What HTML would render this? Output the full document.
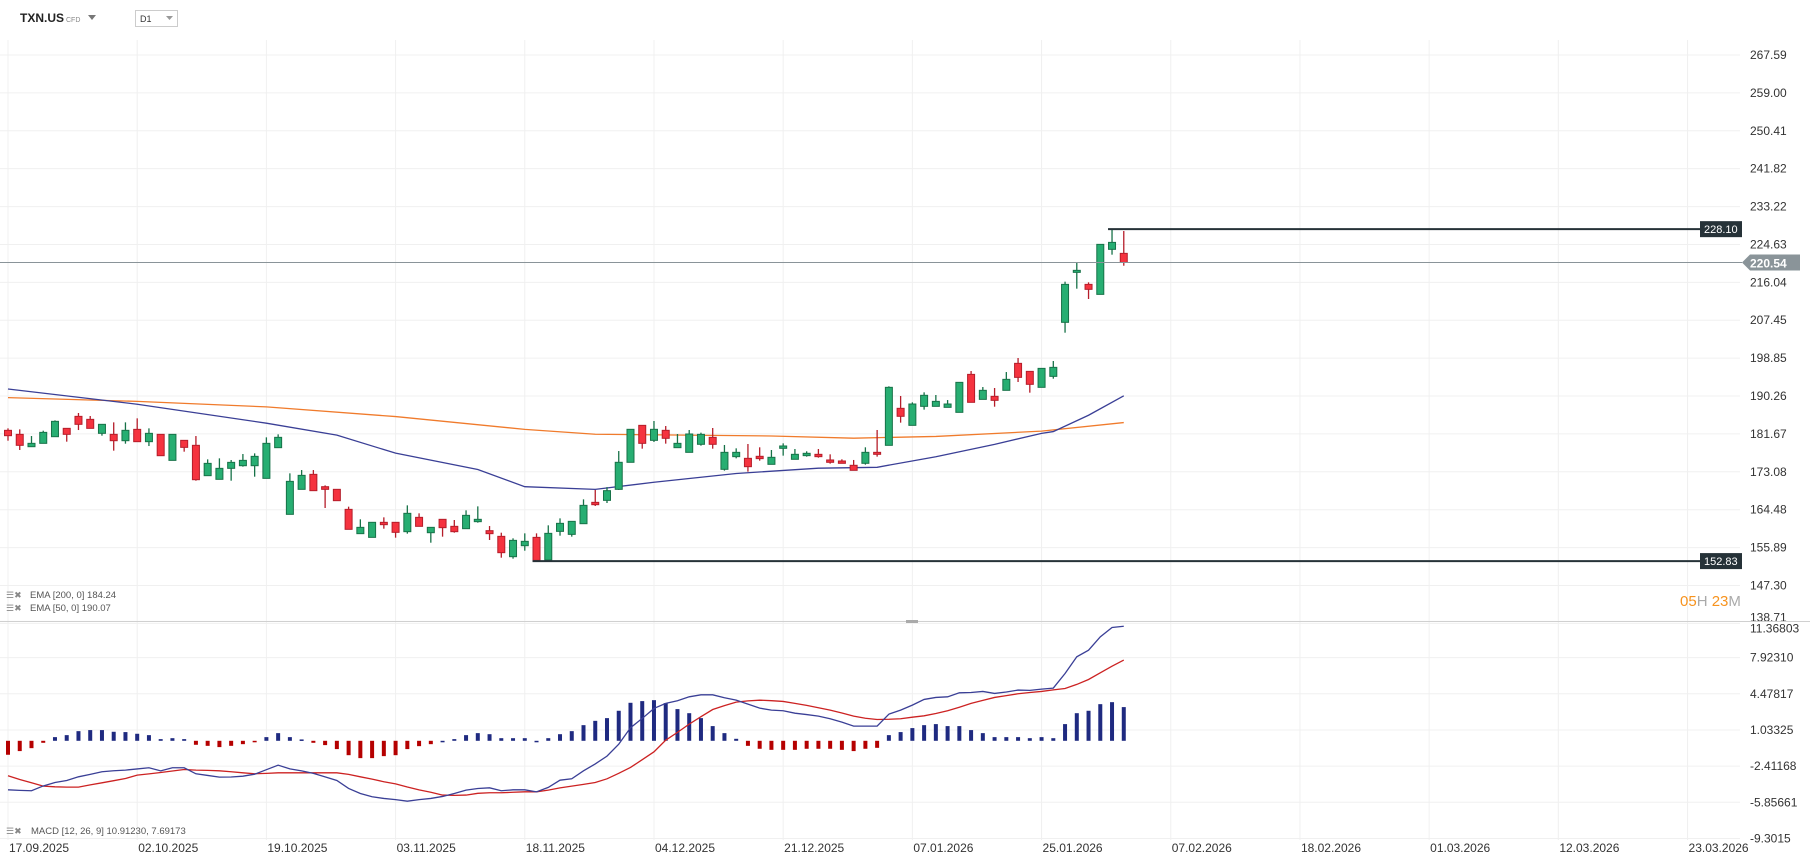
<!DOCTYPE html>
<html><head><meta charset="utf-8"><style>
html,body{margin:0;padding:0;background:#fff;}
svg{display:block;font-family:"Liberation Sans",Arial,sans-serif;}
</style></head><body>
<svg id="chart" width="1810" height="865" viewBox="0 0 1810 865" xmlns="http://www.w3.org/2000/svg">
<rect x="0" y="0" width="1810" height="865" fill="#fff"/>
<g id="grid"></g>
<g id="main"></g>
<g id="macd"></g>
<g id="axes"></g>
<g>
  <text x="20" y="22" font-size="12" font-weight="bold" fill="#222">TXN.US</text>
  <text x="66" y="22" font-size="7" fill="#888">CFD</text>
  <path d="M88 15 l8 0 l-4 5 z" fill="#777"/>
  <rect x="135.5" y="10.5" width="42" height="16" fill="#fff" stroke="#ccc"/>
  <text x="140" y="22" font-size="9" fill="#333">D1</text>
  <path d="M166 16 l7 0 l-3.5 4 z" fill="#999"/>
</g>
<line x1="0" y1="621.5" x2="1810" y2="621.5" stroke="#d0d0d0"/>
<rect x="906" y="620" width="12" height="3" fill="#aaa"/>
<g>
  <text x="6" y="598" font-size="9" fill="#888">☰✖</text>
  <text x="30" y="598" font-size="9.5" fill="#555">EMA [200, 0] 184.24</text>
  <text x="6" y="611" font-size="9" fill="#888">☰✖</text>
  <text x="30" y="611" font-size="9.5" fill="#555">EMA [50, 0] 190.07</text>
</g>
<text x="1680" y="606" font-size="15"><tspan fill="#f7931e">05</tspan><tspan fill="#aaa">H </tspan><tspan fill="#f7931e">23</tspan><tspan fill="#aaa">M</tspan></text>
<g>
  <text x="6" y="834" font-size="9" fill="#888">☰✖</text>
  <text x="31" y="834" font-size="9.5" fill="#555">MACD [12, 26, 9] 10.91230,  7.69173</text>
</g>
</svg>
<script>
const opens=[182.48,181.57,178.77,179.53,181.04,182.93,185.65,184.97,181.8,181.57,180.13,182.7,179.91,181.57,175.67,180.21,179.08,172.2,171.37,173.86,174.46,174.46,171.59,178.55,163.43,169.1,172.5,169.7,169.1,164.56,159.05,158.21,161.62,161.62,159.5,162.75,159.27,162.3,160.71,160.18,161.77,159.73,158.44,153.83,156.32,158.21,153.07,159.57,158.89,161.31,166.15,166.6,169.1,175.23,183.61,180.21,182.48,178.55,177.49,179.31,180.89,173.64,176.51,176.13,176.59,174.77,178.4,175.91,176.74,177.04,175.76,175.53,174.55,175.0,177.49,179.08,187.47,183.61,187.92,187.92,187.69,186.56,195.17,189.5,190.19,191.55,197.67,195.85,192.23,194.72,206.97,218.3,215.58,213.31,223.52,222.61];
const highs=[182.93,182.7,181.19,182.4,184.74,182.93,186.41,185.73,183.91,184.29,184.29,185.2,182.93,181.57,181.57,180.21,181.19,175.9,176.13,175.75,177.11,177.26,180.89,181.57,172.73,173.48,173.48,170.0,169.1,165.17,162.3,161.62,162.75,161.62,165.47,163.66,160.48,162.3,162.15,164.34,165.24,160.78,159.27,157.99,159.12,159.12,160.94,162.52,161.84,166.83,168.95,169.6,177.79,182.71,183.61,184.6,183.46,181.65,182.56,181.95,183.01,179.16,178.4,179.38,178.63,178.02,179.53,178.25,177.72,178.25,177.04,175.91,175.76,178.63,182.56,192.46,190.27,188.83,191.1,190.49,189.35,193.36,195.93,192.3,192.08,195.7,198.88,195.85,196.53,198.2,216.19,220.49,216.04,224.65,228.1,227.68];
const lows=[180.13,178.02,178.77,179.53,181.04,179.91,182.55,182.93,181.27,177.87,179.45,179.91,178.92,176.73,175.67,177.64,171.06,172.2,171.37,171.06,174.24,171.97,171.59,178.55,163.43,169.1,168.8,164.87,166.53,160.03,159.05,158.21,160.18,158.14,159.05,160.71,157.0,158.37,159.27,160.18,161.54,157.61,153.6,153.38,155.19,152.83,152.95,158.59,158.37,161.31,165.32,166.0,168.95,175.23,178.32,179.84,179.46,178.55,177.49,179.0,178.32,173.34,176.13,173.11,175.6,174.77,176.74,175.91,176.51,176.28,174.92,175.0,173.41,174.7,176.51,179.08,184.22,183.61,187.17,187.92,187.69,186.56,188.83,189.5,187.84,191.55,193.44,191.02,192.23,194.19,204.62,214.6,212.26,213.31,222.31,219.81];
const closes=[181.27,179.08,179.53,182.02,184.52,181.57,183.84,182.93,183.84,180.13,182.48,179.91,181.8,176.73,181.57,178.62,171.29,174.99,173.86,175.22,175.67,176.58,179.53,180.89,170.91,172.27,168.8,169.1,166.53,160.03,160.48,161.62,161.09,159.35,163.66,160.71,160.48,160.41,159.5,163.2,162.3,159.05,154.74,157.53,157.31,153.0,159.12,161.39,161.84,165.47,165.62,168.8,175.23,182.71,179.53,182.71,180.67,179.53,181.65,181.57,179.31,177.49,177.49,174.24,176.06,176.36,178.93,177.04,177.27,176.51,175.23,175.0,173.41,177.49,177.04,192.23,185.66,188.45,190.42,189.05,188.45,193.36,188.83,191.55,189.28,194.04,194.49,192.91,196.53,196.76,215.58,218.76,214.45,224.65,225.1,220.54];
const ema50Idx=[0,11,22,28,33,40,44,50,55,62,69,74,79,84,88,89,92,95];
const ema50Val=[191.85,188.4,184.1,181.4,177.3,173.6,169.7,169.1,170.7,172.7,173.9,174.1,176.5,179.3,181.8,182.2,185.9,190.3];
const ema200Idx=[0,11,22,33,44,50,65,72,79,88,95];
const ema200Val=[189.9,189.05,187.8,185.6,182.7,181.6,181.2,180.7,181.1,182.3,184.24];
const macdLine=[-4.67,-4.72,-4.76,-4.3,-3.97,-3.78,-3.43,-3.2,-2.95,-2.85,-2.79,-2.68,-2.57,-2.86,-2.57,-2.57,-3.14,-3.3,-3.46,-3.45,-3.37,-3.18,-2.75,-2.32,-2.67,-2.86,-3.1,-3.43,-3.78,-4.54,-5.02,-5.33,-5.49,-5.6,-5.75,-5.6,-5.49,-5.3,-5.02,-4.7,-4.54,-4.48,-4.76,-4.67,-4.67,-4.86,-4.44,-3.75,-3.62,-2.86,-2.2,-1.46,-0.32,1.24,2.13,3.08,3.56,3.81,4.19,4.38,4.38,4.1,3.87,3.49,3.11,2.92,2.86,2.63,2.5,2.35,2.1,1.78,1.4,1.4,1.4,2.54,2.92,3.4,3.94,4.13,4.19,4.57,4.6,4.7,4.51,4.65,4.83,4.8,4.92,5.02,6.41,8.0,8.63,9.9,10.79,10.91];
const signalLine=[-3.33,-3.68,-4.0,-4.32,-4.38,-4.41,-4.41,-4.2,-4.0,-3.8,-3.59,-3.27,-3.15,-3.02,-2.88,-2.73,-2.79,-2.82,-2.86,-2.95,-3.05,-3.14,-3.1,-3.05,-3.05,-3.05,-3.05,-3.05,-3.05,-3.2,-3.43,-3.65,-3.9,-4.1,-4.4,-4.67,-4.9,-5.17,-5.2,-5.17,-5.0,-4.95,-4.95,-4.9,-4.86,-4.86,-4.7,-4.48,-4.32,-4.15,-3.97,-3.62,-3.1,-2.54,-1.8,-1.05,0.06,0.8,1.59,2.3,2.98,3.35,3.68,3.8,3.87,3.82,3.75,3.56,3.37,3.15,2.92,2.65,2.35,2.15,2.03,2.05,2.1,2.25,2.38,2.6,2.86,3.2,3.56,3.85,4.13,4.3,4.48,4.6,4.7,4.85,4.98,5.37,5.84,6.48,7.11,7.69];
const histVals=[-1.33,-0.98,-0.7,-0.19,0.35,0.54,0.92,1.02,1.02,0.86,0.83,0.67,0.54,0.16,0.25,0.16,-0.38,-0.48,-0.6,-0.48,-0.32,-0.08,0.35,0.73,0.35,0.13,-0.19,-0.41,-0.79,-1.37,-1.65,-1.65,-1.46,-1.37,-0.79,-0.51,-0.32,0.0,0.16,0.54,0.73,0.63,0.25,0.25,0.25,0.0,0.25,0.63,0.92,1.49,1.9,2.16,2.86,3.62,3.78,3.87,3.59,3.02,2.63,2.16,1.4,0.73,0.19,-0.48,-0.76,-0.86,-0.86,-0.86,-0.76,-0.76,-0.76,-0.86,-0.98,-0.76,-0.67,0.54,0.83,1.21,1.49,1.59,1.4,1.4,1.02,0.73,0.35,0.35,0.35,0.25,0.35,0.25,1.59,2.63,2.86,3.49,3.68,3.21];
const priceTicks=["267.59","259.00","250.41","241.82","233.22","224.63","216.04","207.45","198.85","190.26","181.67","173.08","164.48","155.89","147.30","138.71"];
const macdTicks=["11.36803","7.92310","4.47817","1.03325","-2.41168","-5.85661","-9.3015"];
const dateLabels=["17.09.2025","02.10.2025","19.10.2025","03.11.2025","18.11.2025","04.12.2025","21.12.2025","07.01.2026","25.01.2026","07.02.2026","18.02.2026","01.03.2026","12.03.2026","23.03.2026"];
const lastPrice=220.54, highLevel=228.10, lowLevel=152.83;
const highLevelIdx=94, lowLevelIdx=45;

const NS="http://www.w3.org/2000/svg";
function xAt(i){return 8+i*11.745;}
function yP(p){return 55+(267.59-p)*4.41;}
function yM(v){return 740.8-v*10.5;}
function mk(tag,attrs,parent){const e=document.createElementNS(NS,tag);for(const k in attrs)e.setAttribute(k,attrs[k]);parent.appendChild(e);return e;}
const grid=document.getElementById('grid'),main=document.getElementById('main'),macd=document.getElementById('macd'),axes=document.getElementById('axes');

// grid + axis labels
priceTicks.forEach((t,k)=>{
  const y=yP(parseFloat(t));
  const g=mk('line',{x1:0,y1:y,x2:1740,y2:y,stroke:'#f0f0f0'},grid);
  
  
  const tx=mk('text',{x:1750,y:(k===priceTicks.length-1?y-2:y+4),'font-size':12,fill:'#333'},axes);
  tx.textContent=t;
  
  
});
macdTicks.forEach((t,k)=>{
  let y=yM(parseFloat(t));
  const g=mk('line',{x1:0,y1:y,x2:1740,y2:y,stroke:'#f0f0f0'},grid);
  
  
  const tx=mk('text',{x:1750,y:(k===0?y+11:y+4),'font-size':12,fill:'#333'},axes);
  tx.textContent=t;
  
  
});
dateLabels.forEach((d,k)=>{
  const x=xAt(k*11);
  const g=mk('line',{x1:x,y1:40,x2:x,y2:840,stroke:'#f0f0f0'},grid);
  
  
  const tx=mk('text',{x:x+1,y:852,'font-size':12,fill:'#333'},axes);
  tx.textContent=d;
  
  
});

// EMA lines
function poly(idx,vals,color,name){
  const pts=idx.map((i,k)=>xAt(i)+','+yP(vals[k])).join(' ');
  const p=mk('polyline',{points:pts,fill:'none',stroke:color,'stroke-width':1.3},main);
  
  
}
poly(ema200Idx,ema200Val,'#f07b2c','ema200-line');
poly(ema50Idx,ema50Val,'#3a3f96','ema50-line');

// candles
opens.forEach((o,i)=>{
  const c=closes[i],h=highs[i],l=lows[i];
  const up=c>=o;
  const x=xAt(i);
  const fill=up?'#27ae72':'#f5333f',stroke=up?'#177248':'#b51d2a';
  const w=mk('line',{x1:x,y1:yP(h),x2:x,y2:yP(l),stroke:stroke,'stroke-width':1.3},main);
  
  
  const top=yP(Math.max(o,c)),bot=yP(Math.min(o,c));
  const b=mk('rect',{x:x-3.5,y:top,width:7,height:Math.max(1.5,bot-top),fill:fill,stroke:stroke,'stroke-width':1},main);
  
  
});

// levels
const lp=mk('line',{x1:0,y1:yP(lastPrice),x2:1742,y2:yP(lastPrice),stroke:'#8a9499','stroke-width':1},main);


const lpb=mk('path',{d:`M1742 ${yP(lastPrice)} l8 -8 h50 v16 h-50 z`,fill:'#8a9499'},main);


const lpt=mk('text',{x:1750,y:yP(lastPrice)+5,'font-size':12,fill:'#fff','font-weight':'bold'},main);
lpt.textContent=lastPrice.toFixed(2);


function level(val,idx,name){
  const y=yP(val);
  const l=mk('line',{x1:xAt(idx)-4,y1:y,x2:1700,y2:y,stroke:'#263238','stroke-width':2},main);
  
  
  const r=mk('rect',{x:1700,y:y-8,width:42,height:16,fill:'#263238'},main);
  
  
  const t=mk('text',{x:1704,y:y+4,'font-size':11,fill:'#fff'},main);
  t.textContent=val.toFixed(2);
  
  
}
level(highLevel,highLevelIdx,'high-level');
level(lowLevel,lowLevelIdx,'low-level');

// MACD
histVals.forEach((v,i)=>{
  const x=xAt(i),y0=yM(0),y1=yM(v);
  const r=mk('rect',{x:x-2,y:Math.min(y0,y1),width:4,height:Math.max(1.5,Math.abs(y1-y0)),fill:v>=0?'#1f2a80':'#b50000'},macd);
  
  
});
function mline(vals,color,name){
  const pts=vals.map((v,i)=>xAt(i)+','+yM(v)).join(' ');
  const p=mk('polyline',{points:pts,fill:'none',stroke:color,'stroke-width':1.3},macd);
  
  
}
mline(signalLine,'#cc2222','macd-signal-line');
mline(macdLine,'#3a3f96','macd-line');
</script>
</body></html>
